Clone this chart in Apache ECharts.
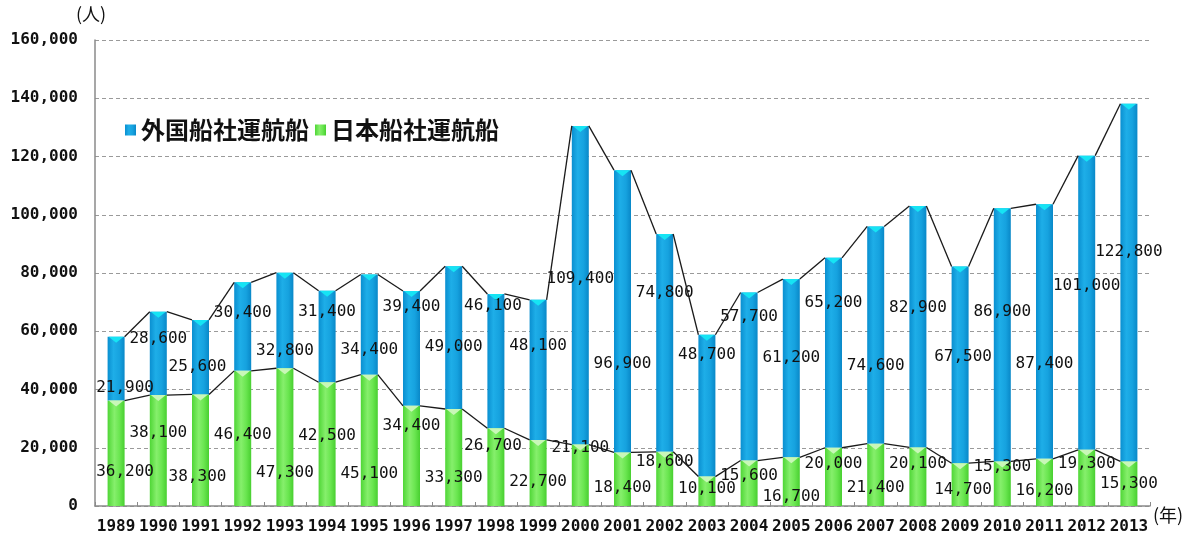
<!DOCTYPE html>
<html>
<head>
<meta charset="utf-8">
<style>
  html, body { margin: 0; padding: 0; background: #fff; }
  #chart { width: 1199px; height: 535px; }
</style>
<script src="https://cdn.jsdelivr.net/npm/echarts@6/dist/echarts.min.js"></script>
</head>
<body>
<div id="chart"></div>
<script>
// 年別の乗客数（人）
const years = ['1989','1990','1991','1992','1993','1994','1995','1996','1997','1998','1999','2000',
  '2001','2002','2003','2004','2005','2006','2007','2008','2009','2010','2011','2012','2013'];
const japanese = [36200, 38100, 38300, 46400, 47300, 42500, 45100, 34400, 33300, 26700, 22700, 21100,
  18400, 18600, 10100, 15600, 16700, 20000, 21400, 20100, 14700, 15300, 16200, 19300, 15300];
const foreign = [21900, 28600, 25600, 30400, 32800, 31400, 34400, 39400, 49000, 46100, 48100, 109400,
  96900, 74800, 48700, 57700, 61200, 65200, 74600, 82900, 67500, 86900, 87400, 101000, 122800];
const yTicks = { min: 0, max: 160000, interval: 20000 };

// label nudges in pixels (layout only)
const greenLabelDy = [19,-18,27,-4,36,-8,34,-30,20,-21,9,-27,9,-17,-2,-7,15,-13,13,-13,5,-17,8,-14,0];
const blueLabelDy  = [19,-15,10,-14,30,-25,25,-42,9,-55,-24,-6,53,-50,-51,-60,-10,-50,31,-19,-8,-23,32,-17,-31];
const labelDx      = [9,0,-3,0,0,0,0,0,0,-3,0,0,0,0,0,0,0,0,0,0,3,0,0,0,0];

const BAR_W = 17;
const NUM_FONT = '"DejaVu Sans Mono", "Liberation Mono", monospace';
const JP_FONT = '"Noto Sans CJK JP", "Noto Sans", sans-serif';

const fmt = v => String(v).replace(/\B(?=(\d{3})+(?!\d))/g, ',');
const totals = japanese.map((g, i) => g + foreign[i]);

const blueFill = new echarts.graphic.LinearGradient(0, 0, 1, 0, [
  { offset: 0, color: '#0a8fd0' }, { offset: 0.35, color: '#1eaee8' },
  { offset: 0.7, color: '#16a2df' }, { offset: 1, color: '#0988c8' }
]);
const greenFill = new echarts.graphic.LinearGradient(0, 0, 1, 0, [
  { offset: 0, color: '#4fd636' }, { offset: 0.4, color: '#86ef6c' },
  { offset: 0.7, color: '#6ae650' }, { offset: 1, color: '#48cf30' }
]);

const labelBase = {
  show: true, position: 'inside', color: '#111', fontFamily: NUM_FONT, fontSize: 16,
  textBorderWidth: 0, formatter: p => fmt(p.value)
};

function barData(values, dys) {
  return values.map((v, i) => ({ value: v, label: { offset: [labelDx[i], dys[i]] } }));
}

// lines joining bar tops, edge to edge
function connectorSeries(vals) {
  const data = [];
  for (let i = 0; i < vals.length - 1; i++) data.push([i, vals[i], vals[i + 1]]);
  return {
    type: 'custom', silent: true, z: 4,
    encode: { x: 0, y: [1, 2] },
    renderItem: (params, api) => {
      const i = api.value(0);
      const a = api.coord([i, api.value(1)]);
      const b = api.coord([i + 1, api.value(2)]);
      const h = BAR_W / 2;
      return { type: 'line', shape: { x1: a[0] + h, y1: a[1], x2: b[0] - h, y2: b[1] },
        style: { stroke: '#1a1a1a', lineWidth: 1.3 } };
    },
    data
  };
}

// small bevel triangle at the top of each segment
function capSeries(vals, color) {
  return {
    type: 'custom', silent: true, z: 3,
    encode: { x: 0, y: 1 },
    renderItem: (params, api) => {
      const p = api.coord([api.value(0), api.value(1)]);
      const h = BAR_W / 2;
      return { type: 'polygon', shape: { points: [[p[0] - h + 1, p[1]], [p[0] + h - 1, p[1]], [p[0], p[1] + 6]] },
        style: { fill: color } };
    },
    data: vals.map((v, i) => [i, v])
  };
}

const chart = echarts.init(document.getElementById('chart'), null, { renderer: 'canvas' });
chart.setOption({
  animation: false,
  backgroundColor: '#fff',
  grid: { left: 95, right: 49, top: 40, bottom: 29, containLabel: false },
  legend: {
    data: ['外国船社運航船', '日本船社運航船'],
    left: 120, top: 113, itemWidth: 11, itemHeight: 11, itemGap: 6,
    icon: 'rect',
    textStyle: { fontFamily: JP_FONT, fontSize: 24, fontWeight: 'bold', color: '#111' }
  },
  xAxis: {
    type: 'category', data: years,
    axisLine: { lineStyle: { color: '#8a8a8a', width: 1.5 } },
    axisTick: { show: true, inside: true, length: 4, lineStyle: { color: '#8a8a8a' } },
    axisLabel: { color: '#111', fontFamily: NUM_FONT, fontSize: 16, fontWeight: 'bold', margin: 13, interval: 0 }
  },
  yAxis: {
    type: 'value', min: yTicks.min, max: yTicks.max, interval: yTicks.interval,
    axisLine: { show: true, lineStyle: { color: '#8a8a8a', width: 1.5 } },
    axisTick: { show: false },
    axisLabel: { color: '#111', fontFamily: NUM_FONT, fontSize: 16, fontWeight: 'bold', margin: 17, formatter: v => fmt(v) },
    splitLine: { lineStyle: { color: '#9a9a9a', type: [4, 3], width: 1.2 } }
  },
  graphic: [
    { type: 'text', left: 76, top: 5, style: { text: '(人)', fontFamily: JP_FONT, fontSize: 18, fill: '#111' } },
    { type: 'text', left: 1153, top: 506, style: { text: '(年)', fontFamily: JP_FONT, fontSize: 18, fill: '#111' } }
  ],
  series: [
    {
      name: '日本船社運航船', type: 'bar', stack: 'total', barWidth: BAR_W,
      itemStyle: { color: greenFill }, label: labelBase, z: 2,
      data: barData(japanese, greenLabelDy)
    },
    {
      name: '外国船社運航船', type: 'bar', stack: 'total', barWidth: BAR_W,
      itemStyle: { color: blueFill }, label: labelBase, z: 2,
      data: barData(foreign, blueLabelDy)
    },
    capSeries(japanese, '#c9f7b8'),
    capSeries(totals, '#16e4f4'),
    connectorSeries(japanese),
    connectorSeries(totals)
  ]
});
</script>
</body>
</html>
